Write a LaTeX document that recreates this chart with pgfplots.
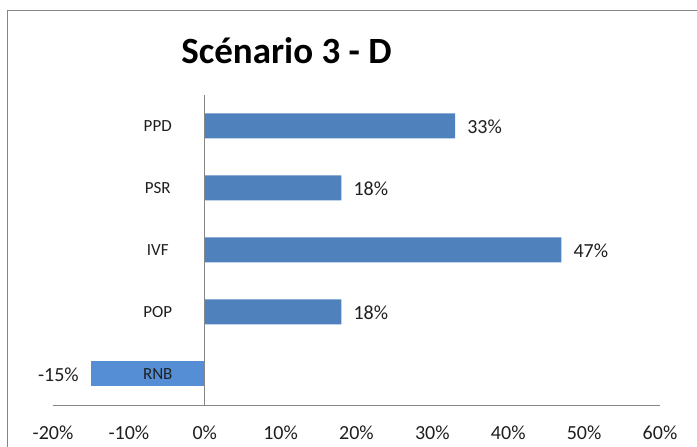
\documentclass[border=0pt]{standalone}
\usepackage{fontspec}
\setmainfont{Carlito}
\usepackage{pgfplots}
\pgfplotsset{compat=1.18}
\definecolor{barblue}{RGB}{79,129,189}
\definecolor{barlight}{RGB}{85,142,213}
\definecolor{axgray}{RGB}{134,134,134}
\begin{document}
\begin{tikzpicture}[x=1bp,y=1bp]
\path[use as bounding box] (0,0) rectangle (697,447);
\draw[axgray, line width=1.2bp] (7.5,-5) -- (7.5,436.5) -- (705,436.5);
\node[font=\fontsize{37bp}{40bp}\selectfont\bfseries] at (286.5,396) {Scénario 3 - D};
\begin{axis}[
  at={(53bp,42bp)}, anchor=south west,
  scale only axis, width=607bp, height=310bp,
  xmin=-20, xmax=60, ymin=-0.5, ymax=4.5,
  xbar, bar width=25bp, bar shift=0pt,
  axis on top,
  axis x line*=bottom, axis y line*=center,
  axis line style={-, axgray, line width=0.9bp},
  major tick length=0pt,
  xtick={-20,-10,0,10,20,30,40,50,60},
  xticklabels={-20\%,-10\%,0\%,10\%,20\%,30\%,40\%,50\%,60\%},
  ytick={0,1,2,3,4},
  yticklabels={RNB,POP,IVF,PSR,PPD},
  xticklabel style={font=\fontsize{20bp}{24bp}\selectfont, anchor=center, yshift=-28bp, text=black!88},
  yticklabel style={font=\fontsize{17bp}{20bp}\selectfont, anchor=center, xshift=-47bp, text=black!88},
  nodes near coords, point meta=explicit symbolic,
  every node near coord/.append style={font=\fontsize{20bp}{24bp}\selectfont, inner xsep=12bp, inner ysep=0pt, yshift=-1bp, text=black!88},
  clip=false,
]
\addplot[fill=barblue, draw=none, every node near coord/.append style={anchor=west}]
  coordinates {(33,4) [33\%] (18,3) [18\%] (47,2) [47\%] (18,1) [18\%]};
\addplot[fill=barlight, draw=none, every node near coord/.append style={anchor=east}]
  coordinates {(-15,0) [-15\%]};
\end{axis}
\end{tikzpicture}
\end{document}
